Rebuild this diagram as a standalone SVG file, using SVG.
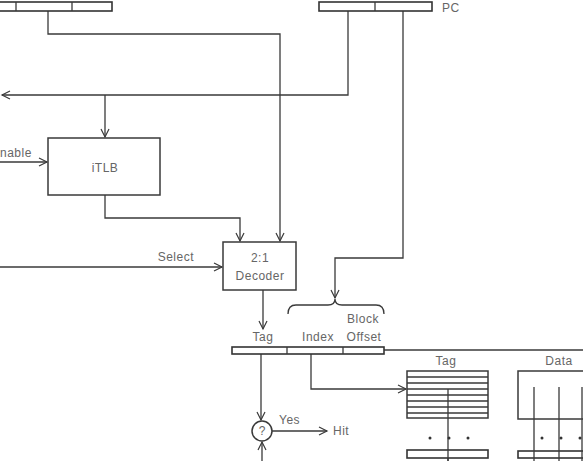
<svg xmlns="http://www.w3.org/2000/svg" width="583" height="461" viewBox="0 0 583 461">
<style>
.ln{fill:none;stroke:#3a3a3a;stroke-width:1.3}
.bx{fill:#fff;stroke:#3a3a3a;stroke-width:1.5}
.bar{fill:#fff;stroke:#333;stroke-width:1.6}
.t{font-family:"Liberation Sans",Arial,sans-serif;font-size:12px;fill:#666;letter-spacing:0.5px}
.m{text-anchor:middle}
.dot{fill:#333}
</style>
<defs>
<marker id="ah" markerUnits="userSpaceOnUse" markerWidth="10" markerHeight="10" refX="8" refY="4" orient="auto" overflow="visible">
<path d="M0,0 L8,4 L0,8" fill="none" stroke="#3a3a3a" stroke-width="1.2"/>
</marker>
</defs>
<rect width="583" height="461" fill="#fff"/>

<g id="connectors">
<path class="ln" d="M48,11 V34 H280 V241" marker-end="url(#ah)"/>
<path class="ln" d="M348,11 V95 H2" marker-end="url(#ah)"/>
<path class="ln" d="M105,95 V137" marker-end="url(#ah)"/>
<path class="ln" d="M0,162 H47" marker-end="url(#ah)"/>
<path class="ln" d="M105,195 V218 H240 V241" marker-end="url(#ah)"/>
<path class="ln" d="M0,267 H222" marker-end="url(#ah)"/>
<path class="ln" d="M403,11 V258 H335 V298" marker-end="url(#ah)"/>
<path class="ln" d="M263,290 V329" marker-end="url(#ah)"/>
<path class="ln" d="M384,350 H583"/>
<path class="ln" d="M261,354 V420" marker-end="url(#ah)"/>
<path class="ln" d="M311,354 V389 H406" marker-end="url(#ah)"/>
<path class="ln" d="M272,431 H327" marker-end="url(#ah)"/>
<path class="ln" d="M262,461 V442" marker-end="url(#ah)"/>
<path class="ln" d="M288,314 Q288,305 296,305 H328 Q335,305 335,299 Q335,305 342,305 H376 Q384,305 384,314"/>
</g>

<g id="left-register">
<rect class="bar" x="-5" y="2" width="117" height="9"/>
<line class="ln" x1="16" y1="2" x2="16" y2="11"/>
<line class="ln" x1="72" y1="2" x2="72" y2="11"/>
</g>

<g id="pc-register">
<rect class="bar" x="319" y="2" width="113" height="9"/>
<line class="ln" x1="375" y1="2" x2="375" y2="11"/>
<text class="t" x="442" y="12">PC</text>
</g>

<g id="enable-label"><text class="t" x="0" y="157">nable</text></g>

<g id="itlb">
<rect class="bx" x="48" y="138" width="112" height="57"/>
<text class="t m" x="105" y="172">iTLB</text>
</g>

<g id="select-label"><text class="t" x="194" y="261" text-anchor="end">Select</text></g>

<g id="decoder">
<rect class="bx" x="223" y="242" width="73" height="48"/>
<text class="t m" x="260" y="262">2:1</text>
<text class="t m" x="260" y="280">Decoder</text>
</g>

<g id="address">
<text class="t m" x="263" y="341">Tag</text>
<text class="t m" x="318" y="341">Index</text>
<text class="t m" x="363" y="323">Block</text>
<text class="t m" x="364" y="341">Offset</text>
<rect class="bar" x="232" y="347" width="152" height="7"/>
<line class="ln" x1="287" y1="347" x2="287" y2="354"/>
<line class="ln" x1="343" y1="347" x2="343" y2="354"/>
</g>

<g id="compare">
<circle class="bx" cx="262" cy="431" r="10"/>
<text class="t m" x="262" y="435" style="letter-spacing:0">?</text>
<text class="t" x="279" y="424">Yes</text>
<text class="t" x="333" y="435">Hit</text>
</g>

<g id="tag-array">
<text class="t m" x="446" y="365">Tag</text>
<rect class="bx" x="407" y="371" width="81" height="47"/>
<path class="ln" d="M407,377 H488 M407,383 H488 M407,389 H488 M407,395 H488 M407,401 H488 M407,407 H488 M407,413 H488"/>
<line class="ln" x1="448" y1="389" x2="448" y2="461"/>
<circle class="dot" cx="430" cy="438" r="1.5"/>
<circle class="dot" cx="449" cy="438" r="1.5"/>
<circle class="dot" cx="468" cy="438" r="1.5"/>
<rect class="bar" x="407" y="450" width="81" height="8"/>
<line class="ln" x1="448" y1="450" x2="448" y2="461"/>
</g>

<g id="data-array">
<text class="t m" x="559" y="365">Data</text>
<rect class="bx" x="518" y="371" width="80" height="48"/>
<rect class="bar" x="518" y="451" width="80" height="7"/>
<path class="ln" d="M534,387 V461 M559,387 V461 M582,387 V461"/>
<circle class="dot" cx="542" cy="438" r="1.5"/>
<circle class="dot" cx="561" cy="438" r="1.5"/>
<circle class="dot" cx="580" cy="438" r="1.5"/>
</g>
</svg>
